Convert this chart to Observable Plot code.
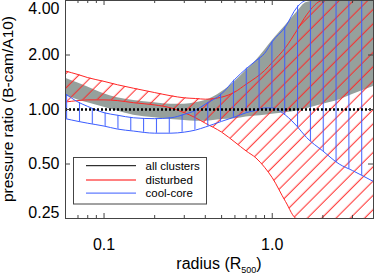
<!DOCTYPE html>
<html><head><meta charset="utf-8">
<script src="https://cdn.jsdelivr.net/npm/d3@7"></script>
<script src="https://cdn.jsdelivr.net/npm/@observablehq/plot@0.6"></script>
<style>
html,body{margin:0;padding:0;background:#fff;}
#chart{position:relative;width:374px;height:274px;overflow:hidden;}
</style></head><body><div id="chart"></div>
<script>
// radius in units of R500
const radius = [0.059, 0.07, 0.08, 0.1, 0.12, 0.15, 0.2, 0.25, 0.3, 0.35, 0.4, 0.5, 0.6, 0.7, 0.8, 0.9, 1.0, 1.2, 1.4, 1.6, 2.0, 2.5, 3.0, 4.0];
// all clusters (grey band)
const allLower = [1.19, 1.13, 1.09, 1.03, 0.98, 0.93, 0.90, 0.88, 0.87, 0.86, 0.86, 0.88, 0.89, 0.91, 0.92, 0.93, 0.94, 0.96, 0.98, 1.01, 1.07, 1.13, 1.21, 1.34];
const allUpper = [1.49, 1.40, 1.33, 1.22, 1.16, 1.12, 1.09, 1.07, 1.07, 1.09, 1.12, 1.25, 1.43, 1.64, 1.86, 2.12, 2.40, 2.91, 3.44, 3.90, 4.0, 4.0, 4.0, 4.0];
// disturbed (red hatched band)
const disturbedLower = [1.10, 1.12, 1.13, 1.13, 1.12, 1.09, 1.06, 1.02, 0.96, 0.90, 0.84, 0.75, 0.66, 0.59, 0.54, 0.48, 0.42, 0.31, 0.25, 0.25, 0.25, 0.25, 0.25, 0.25];
const disturbedUpper = [1.63, 1.56, 1.50, 1.43, 1.37, 1.31, 1.24, 1.19, 1.16, 1.15, 1.14, 1.17, 1.25, 1.38, 1.50, 1.64, 1.82, 2.20, 2.73, 3.33, 4.0, 4.0, 4.0, 4.0];
// cool-core (blue hatched band)
const coolLower = [0.89, 0.86, 0.84, 0.81, 0.78, 0.76, 0.74, 0.74, 0.75, 0.77, 0.80, 0.86, 0.91, 0.96, 0.99, 1.02, 1.02, 0.93, 0.81, 0.70, 0.59, 0.50, 0.46, 0.40];
const coolUpper = [1.22, 1.10, 1.04, 0.96, 0.93, 0.90, 0.89, 0.90, 0.94, 0.99, 1.07, 1.22, 1.47, 1.68, 1.86, 2.04, 2.37, 2.87, 3.66, 4.0, 4.0, 4.0, 4.0, 4.0];
// reference level and ticks
const reference = [1];
const xMajor = [0.1, 1];
const xMinor = [0.07, 0.08, 0.09, 0.2, 0.3, 0.4, 0.5, 0.6, 0.7, 0.8, 0.9, 2, 3];
const yTicks = [0.25, 0.5, 1, 2, 4];
const legendLabels = ["all clusters", "disturbed", "cool-core"];

const rows = radius.map((r, i) => ({
  r, allLo: allLower[i], allHi: allUpper[i],
  disLo: disturbedLower[i], disHi: disturbedUpper[i],
  ccLo: coolLower[i], ccHi: coolUpper[i]
}));

const RED = "#ff2626", BLUE = "#3a5cff", GREY = "#96a09c", AX = "#444";
const W = 374, H = 274, ML = 65, MR = 1, MT = 0, MB = 56;
const FW = W - ML - MR, FH = H - MT - MB;
const font = "'Liberation Sans', Arial, Helvetica, sans-serif";
const C = "monotone-x";

const svg = Plot.plot({
  width: W, height: H, marginLeft: ML, marginRight: MR, marginTop: MT, marginBottom: MB,
  style: {fontFamily: font, background: "white", color: "black"},
  x: {type: "log", domain: [0.059, 4]},
  y: {type: "log", domain: [0.25, 4]},
  marks: [
    Plot.areaY(rows, {x: "r", y1: "allLo", y2: "allHi", fill: GREY, curve: C, clip: true}),
    Plot.areaY(rows, {x: "r", y1: "disLo", y2: "disHi", fill: "url(#hatchRed)", curve: C, clip: true}),
    Plot.line(rows, {x: "r", y: "disLo", stroke: RED, strokeWidth: 1, curve: C, clip: true}),
    Plot.line(rows, {x: "r", y: "disHi", stroke: RED, strokeWidth: 1, curve: C, clip: true}),
    Plot.areaY(rows, {x: "r", y1: "ccLo", y2: "ccHi", fill: "url(#hatchBlue)", curve: C, clip: true}),
    Plot.line(rows, {x: "r", y: "ccLo", stroke: BLUE, strokeWidth: 1, curve: C, clip: true}),
    Plot.line(rows, {x: "r", y: "ccHi", stroke: BLUE, strokeWidth: 1, curve: C, clip: true}),
    Plot.ruleY(reference, {y: d => d, stroke: "black", strokeWidth: 2.5, strokeDasharray: "2,2"}),
    // inward ticks
    Plot.tickX(xMajor, {x: d => d, insetTop: FH - 5, stroke: AX}),
    Plot.tickX(xMajor, {x: d => d, insetBottom: FH - 5, stroke: AX}),
    Plot.tickX(xMinor, {x: d => d, insetTop: FH - 3, stroke: AX}),
    Plot.tickX(xMinor, {x: d => d, insetBottom: FH - 3, stroke: AX}),
    Plot.tickY(yTicks, {y: d => d, insetRight: FW - 5, stroke: AX}),
    Plot.tickY(yTicks, {y: d => d, insetLeft: FW - 5, stroke: AX}),
    Plot.frame({stroke: AX}),
    Plot.axisX({ticks: xMajor, tickSize: 0, tickPadding: 20, tickFormat: d => d.toFixed(1), fontSize: 16, label: null}),
    Plot.axisY({ticks: [0.5, 1, 2], tickSize: 0, tickPadding: 6, tickFormat: d => d.toFixed(2), fontSize: 16, label: null}),
    Plot.axisY({ticks: [4], tickSize: 0, tickPadding: 6, tickFormat: d => d.toFixed(2), fontSize: 16, dy: 8, label: null}),
    Plot.axisY({ticks: [0.25], tickSize: 0, tickPadding: 6, tickFormat: d => d.toFixed(2), fontSize: 16, dy: -6, label: null})
  ]
});

const ns = "http://www.w3.org/2000/svg";
const defs = document.createElementNS(ns, "defs");
defs.innerHTML = `
<pattern id="hatchBlue" patternUnits="userSpaceOnUse" width="12.83" height="10">
  <line x1="2.5" y1="-1" x2="2.5" y2="11" stroke="${BLUE}" stroke-width="1"/>
</pattern>
<pattern id="hatchRed" patternUnits="userSpaceOnUse" width="10.11" height="10" patternTransform="rotate(45)">
  <line x1="7.65" y1="-1" x2="7.65" y2="11" stroke="${RED}" stroke-width="1"/>
</pattern>`;
svg.insertBefore(defs, svg.firstChild);

// y-axis title
const yt = document.createElementNS(ns, "text");
yt.setAttribute("transform", `translate(12.5,${MT + FH / 2}) rotate(-90)`);
yt.setAttribute("text-anchor", "middle");
yt.setAttribute("font-size", "15.5");
yt.setAttribute("fill", "black");
yt.textContent = "pressure ratio (B-cam/A10)";
svg.appendChild(yt);

// x-axis title with subscript
const xt = document.createElementNS(ns, "text");
xt.setAttribute("x", ML + FW / 2);
xt.setAttribute("y", 269);
xt.setAttribute("text-anchor", "middle");
xt.setAttribute("font-size", "16");
xt.setAttribute("fill", "black");
xt.innerHTML = `radius (R<tspan dy="4" font-size="9">500</tspan><tspan dy="-4" font-size="16">)</tspan>`;
svg.appendChild(xt);

// legend
const lg = document.createElementNS(ns, "g");
const legendStyles = [
  {stroke: "black", w: 1, y: 165.7},
  {stroke: "#ff8080", w: 2, y: 179.9},
  {stroke: BLUE, w: 1, y: 193.1}
];
let html = `<rect x="73.5" y="157.5" width="133" height="46.5" fill="white" stroke="${AX}" stroke-width="1"/>`;
legendLabels.forEach((lab, i) => {
  const s = legendStyles[i];
  html += `<line x1="86" x2="136" y1="${s.y}" y2="${s.y}" stroke="${s.stroke}" stroke-width="${s.w}"/>`;
  html += `<text x="145.5" y="${s.y}" dy="0.35em" text-anchor="start" font-size="11.5" fill="black">${lab}</text>`;
});
lg.innerHTML = html;
svg.appendChild(lg);

document.getElementById("chart").appendChild(svg);
</script></body></html>
